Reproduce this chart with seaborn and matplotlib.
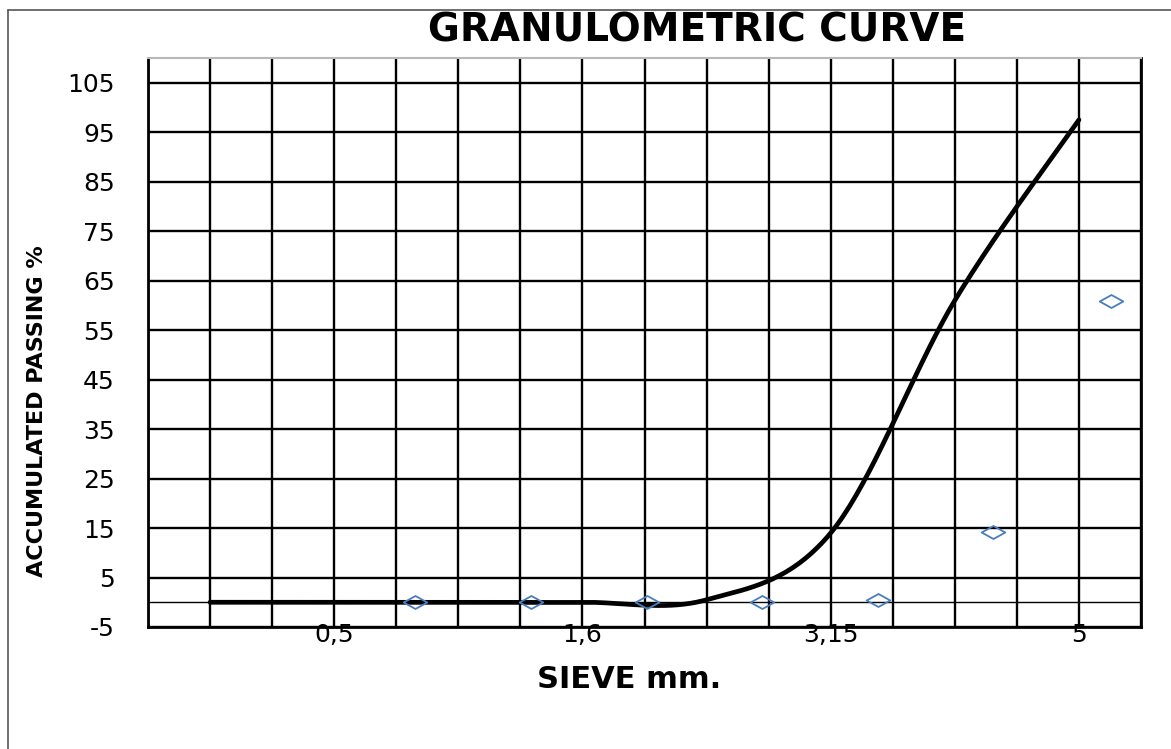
import numpy as np
import matplotlib
matplotlib.use("Agg")
import matplotlib.pyplot as plt
from matplotlib.lines import Line2D
from matplotlib.path import Path
from matplotlib.ticker import MultipleLocator
import seaborn as sns

# %%
# dados (posicao no eixo de categorias, % passante acumulado)
sieve_pos = [1, 3, 5, 7, 9, 11, 13, 15]
passing = [0, 0, 0, 0, 0.5, 14, 61, 97.5]

# segunda serie (losangos azuis), deslocada no eixo
marker_pos = [4.30, 6.17, 8.04, 9.89, 11.76, 13.61, 15.52]
marker_passing = [0, 0, 0, 0, 0.4, 14.2, 60.9]

tick_pos = [3, 7, 11, 15]
tick_labels = ["0,5", "1,6", "3,15", "5"]
y_ticks = list(range(-5, 106, 10))


# %%
def suavizar(x, y, n=40):
    # curva suavizada estilo Excel (Catmull-Rom)
    p = np.column_stack([x, y]).astype(float)
    p = np.vstack([p[0], p, p[-1]])
    pts = []
    t = np.linspace(0, 1, n)[:, None]
    for i in range(1, len(p) - 2):
        p0, p1, p2, p3 = p[i - 1], p[i], p[i + 1], p[i + 2]
        seg = 0.5 * ((2 * p1) + (-p0 + p2) * t
                     + (2 * p0 - 5 * p1 + 4 * p2 - p3) * t ** 2
                     + (-p0 + 3 * p1 - 3 * p2 + p3) * t ** 3)
        pts.append(seg)
    pts = np.vstack(pts)
    return pts[:, 0], pts[:, 1]


# %%
sns.set_style("white")
plt.rcParams["font.family"] = ["DejaVu Sans"]
plt.rcParams["axes.unicode_minus"] = False
plt.rcParams["text.color"] = "black"
plt.rcParams["axes.labelcolor"] = "black"
plt.rcParams["xtick.color"] = "black"
plt.rcParams["ytick.color"] = "black"

fig = plt.figure(figsize=(11.71, 7.49), dpi=100)
ax = fig.add_axes([148 / 1171, 1 - 627 / 749, (1141 - 148) / 1171, (627 - 58) / 749])

# grade
ax.set_xlim(0, 16)
ax.set_ylim(-5, 110)
ax.xaxis.set_minor_locator(MultipleLocator(1))
ax.set_xticks(tick_pos)
ax.set_xticklabels(tick_labels)
ax.set_yticks(y_ticks)
ax.grid(which="minor", axis="x", color="black", lw=1.7, zorder=1)
ax.grid(which="major", axis="x", color="black", lw=1.7, zorder=1)
ax.grid(which="major", axis="y", color="black", lw=1.7, zorder=1)
ax.axhline(0, color="black", lw=1.0, zorder=1)

xs, ys = suavizar(sieve_pos, passing)
sns.lineplot(x=xs, y=ys, sort=False, estimator=None, color="black", lw=3.4, ax=ax, zorder=3)

losango = Path([(-1, 0), (0, 0.55), (1, 0), (0, -0.55), (-1, 0)],
               [Path.MOVETO, Path.LINETO, Path.LINETO, Path.LINETO, Path.CLOSEPOLY])
ax.plot(marker_pos, marker_passing, ls="none", marker=losango, ms=17,
        mfc="none", mec="#4a7ebb", mew=1.3, zorder=4, clip_on=False)

for lado in ["left", "bottom", "right"]:
    ax.spines[lado].set_visible(True)
    ax.spines[lado].set_color("black")
    ax.spines[lado].set_linewidth(2)
ax.spines["top"].set_visible(True)
ax.spines["top"].set_color("#b8b8b8")
ax.spines["top"].set_linewidth(1.5)

ax.tick_params(axis="both", which="both", length=0)
ax.tick_params(axis="x", labelsize=18, pad=-3)
ax.tick_params(axis="y", labelsize=18, pad=24)

ax.set_title("GRANULOMETRIC CURVE", x=0.553, y=1.049, va="center", pad=0,
             fontsize=28, fontweight="bold")
ax.set_xlabel("SIEVE mm.", fontsize=22, fontweight="bold", va="center")
ax.xaxis.set_label_coords(0.485, -0.093)
ax.set_ylabel("ACCUMULATED PASSING %", fontsize=16, fontweight="bold", va="center")
ax.yaxis.set_label_coords(-0.112, 0.38)

# moldura do grafico (borda superior e esquerda)
fig.add_artist(Line2D([8 / 1171, 1], [1 - 10 / 749, 1 - 10 / 749], color="#555555", lw=1.2))
fig.add_artist(Line2D([8 / 1171, 8 / 1171], [0, 1 - 10 / 749], color="#555555", lw=1.2))

fig.savefig("out.png", dpi=100)
